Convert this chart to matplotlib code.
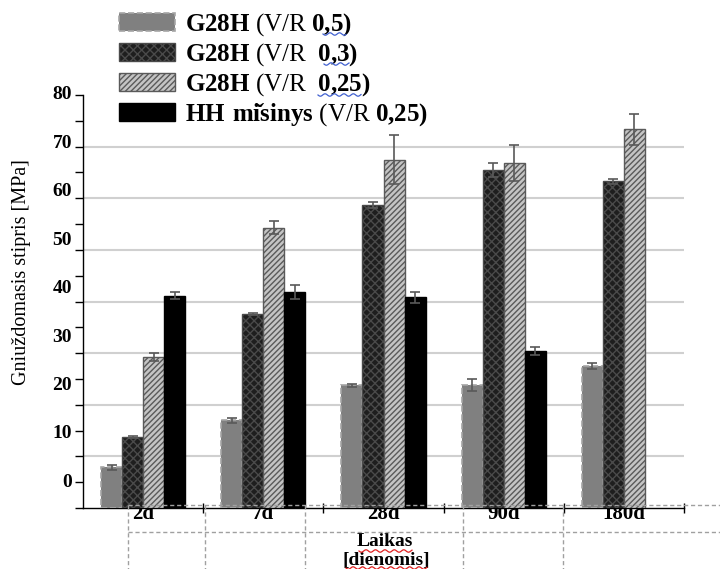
import matplotlib
matplotlib.use("Agg")
import matplotlib.pyplot as plt
from matplotlib.lines import Line2D
import numpy as np

plt.rcParams['font.family'] = 'Liberation Serif'
plt.rcParams['mathtext.fontset'] = 'custom'
plt.rcParams['mathtext.rm'] = 'Liberation Serif'
plt.rcParams['mathtext.bf'] = 'Liberation Serif:bold'
plt.rcParams['hatch.linewidth'] = 1.0

# duomenys (nuskaityta is paveikslo)
laikas = ['2d', '7d', '28d', '90d', '180d']
g05 = [7.9, 17.0, 23.8, 23.8, 27.5]
g05_err = [0.5, 0.5, 0.3, 1.1, 0.6]
g03 = [13.7, 37.5, 58.7, 65.5, 63.3]
g03_err = [0.2, 0.2, 0.5, 1.3, 0.5]
g025 = [29.2, 54.3, 67.5, 66.8, 73.4]
g025_err = [0.8, 1.3, 4.7, 3.5, 3.0]
hh = [41.1, 41.8, 40.8, 30.4]          # 180d nera
hh_err = [0.65, 1.3, 1.0, 0.7]

labels = [r'$\mathbf{G28H}$ (V/R $\mathbf{0{,}5)}$',
          r'$\mathbf{G28H}$ (V/R  $\mathbf{0{,}3)}$',
          r'$\mathbf{G28H}$ (V/R  $\mathbf{0{,}25)}$',
          r'$\mathbf{HH\ mi\check{s}inys}$ (V/R $\mathbf{0{,}25)}$']

W, H = 720, 569
fig = plt.figure(figsize=(7.2, 5.69), dpi=100)
ax = fig.add_axes([83/W, 1-508/H, (684-83)/W, (508-95)/H])

x = np.arange(len(laikas))
w = 0.175
errkw = dict(ecolor='#595959', elinewidth=1.2, capsize=3.5, capthick=1.2)

b1 = ax.bar(x - 1.5*w, g05, w, color='#808080', edgecolor='#a6a6a6', linestyle='--',
            linewidth=1.2, yerr=g05_err, error_kw=errkw, zorder=3)
b2 = ax.bar(x - 0.5*w, g03, w, color='#1e1e1e', edgecolor='#4a4a4a', hatch='xxxx',
            linewidth=1.0, yerr=g03_err, error_kw=errkw, zorder=3)
b3 = ax.bar(x + 0.5*w, g025, w, color='#c4c4c4', edgecolor='#5a5a5a', hatch='//////',
            linewidth=1.0, yerr=g025_err, error_kw=errkw, zorder=3)
xh = np.arange(len(hh))
b4 = ax.bar(xh + 1.5*w, hh, w, color='black', edgecolor='black',
            linewidth=1.0, yerr=hh_err, error_kw=errkw, zorder=3)

ax.set_xlim(-0.5, len(laikas) - 0.5)
ax.set_ylim(0, 80)

# tinklelis
ax.hlines(np.arange(10, 80, 10), 0, 1, transform=ax.get_yaxis_transform(),
          color='#d0d0d0', lw=1.5, zorder=1)

for s in ['top', 'right']:
    ax.spines[s].set_visible(False)
ax.spines['left'].set_linewidth(1.0)
ax.spines['bottom'].set_linewidth(1.0)

yt = np.arange(0, 81, 10)
ax.set_yticks(yt)
ax.set_yticks(np.arange(5, 80, 10), minor=True)
ax.tick_params(axis='y', which='both', direction='out', length=6, width=1, labelleft=False)
# y reiksmes (originale paslinktos)
for v in yt:
    ax.text(-0.018, v + (80 - v)*0.062, str(v), transform=ax.get_yaxis_transform(),
            ha='right', va='center', fontsize=14, fontweight='bold')

ax.set_xticks(x + 0.5)
ax.set_xticklabels([])
ax.set_xticks(x, minor=True)
ax.set_xticklabels(laikas, minor=True, fontsize=15, fontweight='bold')
ax.tick_params(axis='x', which='major', direction='inout', length=7, width=1)
ax.tick_params(axis='x', which='minor', length=0, pad=-3)

fig.text(22/W, 1-272/H, 'Gniuždomasis stipris [MPa]', rotation=90,
         ha='center', va='center', fontsize=14.5)
fig.text(385/W, 1-541/H, 'Laikas', ha='center', va='center', fontsize=14, fontweight='bold')
fig.text(386/W, 1-560/H, '[dienomis]', ha='center', va='center', fontsize=14, fontweight='bold')


def px_line(xs, ys, **kw):
    fig.add_artist(Line2D([a/W for a in xs], [1 - b/H for b in ys],
                          transform=fig.transFigure, **kw))


# punktyrine lentele apacioje
dash = dict(color='#a0a0a0', lw=1.0, linestyle=(0, (3, 2)), zorder=10)
px_line([128, 720], [505, 505], **dash)
px_line([128, 720], [532, 532], **dash)
for xv in [128, 205, 305, 463, 563]:
    px_line([xv, xv], [505, 569], **dash)


def wavy(x0, x1, y0, color):
    t = np.linspace(x0, x1, int((x1 - x0)*2))
    px_line(t, y0 + 1.2*np.sin((t - x0)/1.5), color=color, lw=0.9, zorder=11)


wavy(323, 346, 34, '#4060d0')
wavy(324, 349, 64, '#4060d0')
wavy(318, 361, 95, '#4060d0')
wavy(359, 412, 551, '#e02020')
wavy(346, 427, 568, '#e02020')

fig.legend([b1, b2, b3, b4], labels, loc='upper left', bbox_to_anchor=(119/W, 1-11/H),
           frameon=False, fontsize=18, handlelength=2.25, handleheight=0.75,
           handletextpad=0.4, labelspacing=0.13, borderpad=0, borderaxespad=0)

fig.savefig('out.png', dpi=100)
